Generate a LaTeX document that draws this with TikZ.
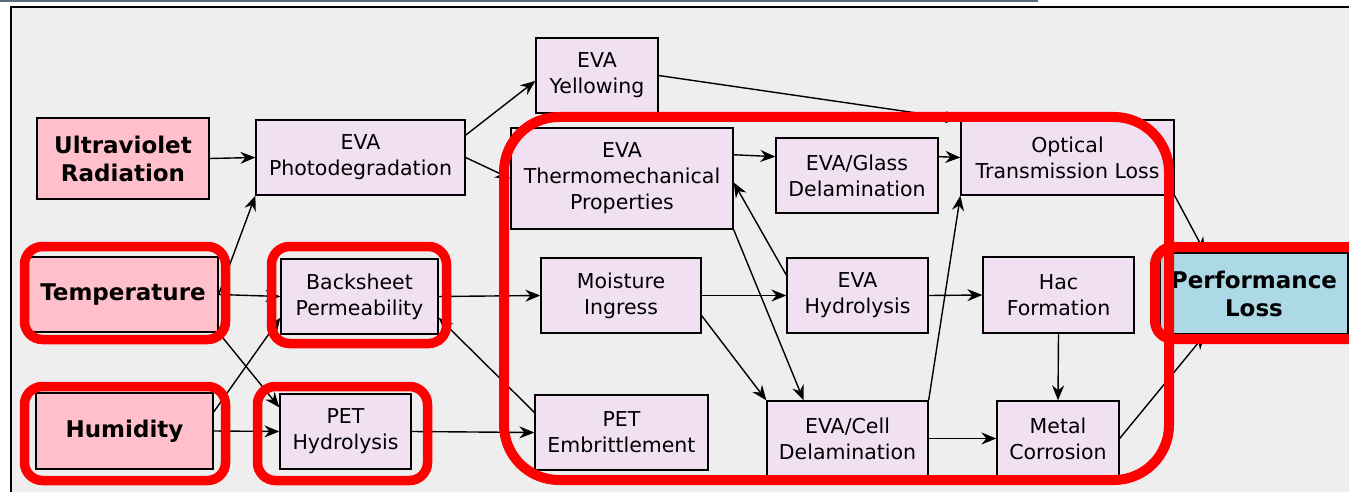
\documentclass[tikz,border=0pt]{standalone}
\usepackage{fontspec}
\setmainfont{DejaVu Sans}
\usetikzlibrary{arrows.meta}
\definecolor{bgray}{RGB}{238,238,238}
\definecolor{lav}{RGB}{240,224,242}
\definecolor{pinkfill}{RGB}{255,192,203}
\definecolor{lblue}{RGB}{173,216,230}
\definecolor{hilite}{RGB}{255,0,0}
\definecolor{topline}{RGB}{90,108,122}

\tikzset{
  proc/.style={draw=black, line width=1.3pt, fill=lav, align=center, inner sep=0pt,
    font=\fontsize{20.5}{26}\selectfont},
  cause/.style={proc, fill=pinkfill, font=\fontsize{23}{28}\selectfont\bfseries},
  result/.style={cause, fill=lblue},
  link/.style={-{Stealth[length=15pt,width=12pt,inset=5pt]}, line width=1.4pt},
  ring/.style={draw=hilite, line width=9.5pt, rounded corners=18pt},
}

\begin{document}
\begin{tikzpicture}[x=1pt, y=-1pt]
  \useasboundingbox (0,0) rectangle (1349,492);
  % Frame
  \fill[white] (0,0) rectangle (1349,492);
  \fill[topline] (0,0) rectangle (1038,2);
  \fill[bgray] (10.5,7.5) rectangle (1349,492);
  \draw[line width=2pt] (10.5,492) -- (10.5,7.5) -- (1349,7.5);

  % Stressors
  \node[cause, minimum width=172pt, minimum height=81pt] (uv) at (123,158.5) {Ultraviolet\\Radiation};
  \node[cause, minimum width=190pt, minimum height=75pt] (temp) at (123,294.5) {Temperature};
  \node[cause, minimum width=177pt, minimum height=76pt] (humid) at (124.5,431) {Humidity};

  % Mechanisms
  \node[proc, minimum width=209pt, minimum height=75pt] (photo) at (360.5,157.5) {EVA\\Photodegradation};
  \node[proc, minimum width=157pt, minimum height=75pt] (backsheet) at (359.5,296.5) {Backsheet\\Permeability};
  \node[proc, minimum width=131pt, minimum height=75pt] (pethyd) at (345.5,431.5) {PET\\Hydrolysis};
  \node[proc, minimum width=122pt, minimum height=75pt] (yellow) at (597,75.5) {EVA\\Yellowing};
  \node[proc, minimum width=222pt, minimum height=101pt] (thermo) at (622,178.5) {EVA\\Thermomechanical\\Properties};
  \node[proc, minimum width=160pt, minimum height=75pt] (moisture) at (621,295.5) {Moisture\\Ingress};
  \node[proc, minimum width=173pt, minimum height=75pt] (petemb) at (621.5,432.5) {PET\\Embrittlement};
  \node[proc, minimum width=162pt, minimum height=75pt] (glass) at (857,175.5) {EVA/Glass\\Delamination};
  \node[proc, minimum width=141pt, minimum height=75pt] (hydro) at (857.5,295.5) {EVA\\Hydrolysis};
  \node[proc, minimum width=161pt, minimum height=75pt] (cell) at (847.5,438.5) {EVA/Cell\\Delamination};
  \node[proc, minimum width=213pt, minimum height=75pt] (optical) at (1067.5,157.5) {Optical\\Transmission Loss};
  \node[proc, minimum width=151pt, minimum height=76pt] (hac) at (1058.5,295) {Hac\\Formation};
  \node[proc, minimum width=122pt, minimum height=75pt] (metal) at (1058,438.5) {Metal\\Corrosion};

  % Outcome
  \node[result, minimum width=188pt, minimum height=81pt] (perf) at (1254,293.5) {Performance\\Loss};

  % Links
  \draw[link] (uv.east) -- (photo.west);
  \draw[link] (temp.east) -- (photo.south west);
  \draw[link] (temp.east) -- (backsheet.west);
  \draw[link] (temp.south east) -- (pethyd.160);
  \draw[link] (humid.12) -- (backsheet.195);
  \draw[link] (humid.east) -- (pethyd.west);
  \draw[link] (backsheet.east) -- (moisture.west);
  \draw[link] (pethyd.east) -- (petemb.west);
  \draw[link] (petemb.167) -- (backsheet.345);
  \draw[link] (photo.12) -- (yellow.185);
  \draw[link] (photo.east) -- (thermo.west);
  \draw[link] (yellow.east) -- (optical.north west);
  \draw[link] (thermo.12) -- (glass.167);
  \draw[link] (glass.13) -- (optical.west);
  \draw[link] (hydro.164) -- (thermo.-2);
  \draw[link] (thermo.south east) -- (cell.139);
  \draw[link] (moisture.east) -- (hydro.west);
  \draw[link] (moisture.-14) -- (cell.north west);
  \draw[link] (hydro.east) -- (hac.west);
  \draw[link] (hac.south) -- (metal.north);
  \draw[link] (cell.east) -- (metal.west);
  \draw[link] (cell.north east) -- (optical.south west);
  \draw[link] (optical.south east) -- (perf.140);
  \draw[link] (metal.east) -- (perf.220);

  % Highlights
  \draw[ring] (24.5,246.5) rectangle (225.5,339.5);
  \draw[ring] (271.5,246.5) rectangle (446.5,343.5);
  \draw[ring] (24.5,386.5) rectangle (225.5,480.5);
  \draw[ring] (257.5,386.5) rectangle (427.5,480.5);
  \draw[ring, line width=10pt, rounded corners=55pt] (504,117) rectangle (1169,480);
  \draw[ring, line width=10pt] (1155,247) rectangle (1380,339);
\end{tikzpicture}
\end{document}
